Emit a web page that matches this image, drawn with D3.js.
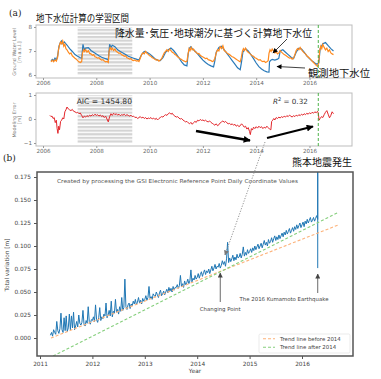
<!DOCTYPE html>
<html><head><meta charset="utf-8">
<script src="https://cdn.jsdelivr.net/npm/d3@7"></script>
<style>body{margin:0;background:#fff}svg{display:block}</style>
</head><body><svg id="c" width="381" height="379"></svg>
<script>
// ---------------- DATA ----------------
const yearTicksA = [2006, 2008, 2010, 2012, 2014, 2016];
const levelTicks = [6, 7, 8];
const errTicks = [-1, 0, 1];
const trainPeriod = [2007.3, 2009.35];
const quakeYear = 2016.33;
const aic = "AIC = 1454.80";
const r2 = "0.32";

const observed = [
[2006.30,6.58],[2006.35,6.65],[2006.40,6.60],[2006.45,6.70],[2006.50,6.62],[2006.55,6.80],[2006.60,7.20],[2006.65,7.35],[2006.70,7.42],[2006.75,7.30],[2006.80,7.38],[2006.90,7.25],
[2007.00,7.10],[2007.10,6.98],[2007.20,6.85],[2007.30,6.78],[2007.40,6.72],[2007.45,6.70],[2007.50,7.28],[2007.55,7.05],[2007.60,7.12],[2007.70,7.14],[2007.80,7.02],[2007.90,6.95],
[2008.00,6.88],[2008.10,6.80],[2008.20,6.74],[2008.30,6.70],[2008.40,6.66],[2008.45,6.62],[2008.50,7.28],[2008.55,7.15],[2008.60,7.24],[2008.70,7.18],[2008.80,7.05],[2008.90,6.98],
[2009.00,6.92],[2009.10,6.85],[2009.20,6.78],[2009.30,6.74],[2009.40,6.70],[2009.50,6.66],[2009.60,6.62],[2009.70,6.85],[2009.80,6.98],[2009.90,6.95],
[2010.00,6.88],[2010.10,6.78],[2010.20,6.68],[2010.30,6.62],[2010.40,6.60],[2010.50,6.72],[2010.60,6.95],[2010.70,7.05],[2010.80,7.12],[2010.90,7.02],
[2011.00,6.88],[2011.10,6.72],[2011.20,6.55],[2011.30,6.42],[2011.40,6.38],[2011.45,6.90],[2011.50,7.12],[2011.55,7.18],[2011.60,7.10],[2011.70,7.00],[2011.80,6.88],[2011.90,6.75],
[2012.00,6.62],[2012.10,6.52],[2012.20,6.44],[2012.30,6.38],[2012.40,6.34],[2012.45,6.60],[2012.50,6.95],[2012.60,7.15],[2012.70,7.20],[2012.80,7.05],[2012.90,6.90],
[2013.00,6.75],[2013.10,6.60],[2013.20,6.45],[2013.30,6.30],[2013.40,6.22],[2013.45,6.55],[2013.50,6.95],[2013.60,7.10],[2013.70,7.00],[2013.80,6.85],[2013.90,6.68],
[2014.00,6.50],[2014.10,6.35],[2014.20,6.25],[2014.30,6.18],[2014.40,6.13],[2014.48,6.12],[2014.50,6.55],[2014.55,6.62],[2014.60,6.65],[2014.70,6.62],[2014.80,6.66],[2014.85,6.70],[2014.90,7.00],
[2015.00,7.05],[2015.10,6.95],[2015.20,6.85],[2015.30,6.75],[2015.40,6.68],[2015.50,6.95],[2015.60,7.12],[2015.70,7.08],[2015.80,6.95],[2015.90,6.80],
[2016.00,6.68],[2016.10,6.58],[2016.20,6.50],[2016.28,6.45],[2016.35,6.50],[2016.40,7.10],[2016.50,7.30],[2016.60,7.35],[2016.70,7.22],[2016.80,7.10],[2016.90,7.00]
];

const computed = [
[2006.30,6.55],[2006.35,6.62],[2006.40,6.55],[2006.45,6.63],[2006.50,6.58],[2006.55,6.75],[2006.58,7.05],[2006.62,7.25],[2006.66,7.38],[2006.70,7.30],[2006.74,7.42],[2006.78,7.20],[2006.82,7.28],[2006.86,7.10],[2006.90,7.05],[2006.95,6.95],
[2007.00,6.88],[2007.05,6.92],[2007.10,6.80],[2007.15,6.75],[2007.20,6.70],[2007.25,6.66],[2007.30,6.60],[2007.35,6.55],[2007.40,6.52],[2007.45,6.56],[2007.48,6.90],[2007.52,7.05],[2007.56,6.98],[2007.60,7.06],[2007.65,6.95],[2007.70,7.02],[2007.75,6.90],[2007.80,6.88],[2007.85,6.82],[2007.90,6.85],[2007.95,6.76],
[2008.00,6.74],[2008.05,6.70],[2008.10,6.72],[2008.15,6.65],[2008.20,6.62],[2008.25,6.64],[2008.30,6.58],[2008.35,6.55],[2008.40,6.57],[2008.45,6.52],[2008.48,7.00],[2008.52,7.15],[2008.56,7.05],[2008.60,7.12],[2008.65,7.02],[2008.70,7.08],[2008.75,6.98],[2008.80,6.95],[2008.85,6.90],[2008.90,6.92],[2008.95,6.84],
[2009.00,6.82],[2009.05,6.78],[2009.10,6.80],[2009.15,6.72],[2009.20,6.70],[2009.25,6.66],[2009.30,6.68],[2009.35,6.62],[2009.40,6.60],[2009.45,6.63],[2009.50,6.58],[2009.55,6.60],[2009.60,6.56],[2009.65,6.70],[2009.70,6.85],[2009.75,6.92],[2009.80,6.88],[2009.85,6.98],[2009.90,6.90],[2009.95,6.86],
[2010.00,6.80],[2010.05,6.78],[2010.10,6.72],[2010.15,6.70],[2010.20,6.66],[2010.25,6.62],[2010.30,6.64],[2010.35,6.58],[2010.40,6.62],[2010.45,6.68],[2010.50,6.80],[2010.55,6.92],[2010.60,6.98],[2010.65,7.05],[2010.70,6.98],[2010.75,7.08],[2010.80,7.02],[2010.85,6.95],[2010.90,6.92],[2010.95,6.85],
[2011.00,6.82],[2011.05,6.76],[2011.10,6.72],[2011.15,6.68],[2011.20,6.65],[2011.25,6.60],[2011.30,6.58],[2011.35,6.55],[2011.40,6.57],[2011.44,6.85],[2011.48,7.10],[2011.52,7.02],[2011.56,7.15],[2011.60,7.05],[2011.65,7.08],[2011.70,6.98],[2011.75,6.95],[2011.80,6.88],[2011.85,6.90],[2011.90,6.82],[2011.95,6.78],
[2012.00,6.75],[2012.05,6.72],[2012.10,6.68],[2012.15,6.70],[2012.20,6.64],[2012.25,6.62],[2012.30,6.60],[2012.35,6.56],[2012.40,6.58],[2012.45,6.70],[2012.50,6.92],[2012.55,7.05],[2012.60,7.00],[2012.65,7.18],[2012.70,7.10],[2012.75,7.22],[2012.80,7.02],[2012.85,6.98],[2012.90,6.92],[2012.95,6.88],
[2013.00,6.85],[2013.05,6.80],[2013.10,6.76],[2013.15,6.74],[2013.20,6.70],[2013.25,6.66],[2013.30,6.62],[2013.35,6.58],[2013.40,6.55],[2013.44,6.72],[2013.48,6.98],[2013.52,7.10],[2013.56,7.02],[2013.60,7.12],[2013.65,7.00],[2013.70,6.95],[2013.75,6.90],[2013.80,6.86],[2013.85,6.80],[2013.90,6.78],[2013.95,6.72],
[2014.00,6.70],[2014.05,6.66],[2014.10,6.62],[2014.15,6.64],[2014.20,6.58],[2014.25,6.56],[2014.30,6.58],[2014.35,6.52],[2014.40,6.55],[2014.45,6.60],[2014.48,6.90],[2014.52,7.05],[2014.56,6.98],[2014.60,7.08],[2014.65,7.00],[2014.70,6.92],[2014.75,6.96],[2014.80,6.88],[2014.85,6.92],[2014.90,7.02],[2014.95,6.95],
[2015.00,6.90],[2015.05,6.85],[2015.10,6.82],[2015.15,6.78],[2015.20,6.74],[2015.25,6.70],[2015.30,6.72],[2015.35,6.66],[2015.40,6.70],[2015.45,6.85],[2015.50,7.02],[2015.55,7.10],[2015.60,7.05],[2015.65,7.15],[2015.70,7.06],[2015.75,6.98],[2015.80,6.92],[2015.85,6.88],[2015.90,6.80],[2015.95,6.75],
[2016.00,6.70],[2016.05,6.64],[2016.10,6.58],[2016.15,6.52],[2016.20,6.46],[2016.25,6.40],[2016.30,6.36],[2016.34,6.48],[2016.38,7.00],[2016.42,7.20],[2016.46,7.10],[2016.50,7.28],[2016.55,7.15],[2016.60,7.05],[2016.65,7.12],[2016.70,6.98],[2016.75,7.05],[2016.80,6.92],[2016.85,6.88],[2016.90,6.85]
];

const modelError = [
[2006.26,0.15],[2006.30,0.10],[2006.34,0.12],[2006.38,0.02],[2006.42,0.06],[2006.46,-0.15],[2006.50,-0.05],[2006.53,-0.40],[2006.56,-0.60],[2006.59,-0.30],[2006.62,-0.45],[2006.66,-0.10],[2006.70,-0.05],[2006.74,0.05],[2006.78,0.00],[2006.82,0.30],[2006.86,0.38],[2006.90,0.50],[2006.95,0.42],
[2007.00,0.38],[2007.05,0.35],[2007.10,0.40],[2007.15,0.32],[2007.20,0.30],[2007.25,0.26],[2007.30,0.28],[2007.35,0.22],[2007.40,0.25],[2007.45,0.15],[2007.50,0.05],[2007.55,0.12],[2007.60,0.08],[2007.65,0.14],[2007.70,0.10],[2007.75,0.16],[2007.80,0.12],[2007.85,0.18],[2007.90,0.14],[2007.95,0.20],
[2008.00,0.15],[2008.05,0.18],[2008.10,0.12],[2008.15,0.17],[2008.20,0.10],[2008.25,0.14],[2008.30,0.06],[2008.35,0.12],[2008.40,0.00],[2008.45,-0.12],[2008.50,0.10],[2008.55,0.22],[2008.60,0.15],[2008.65,0.24],[2008.70,0.18],[2008.75,0.22],[2008.80,0.16],[2008.85,0.20],[2008.90,0.14],[2008.95,0.18],
[2009.00,0.16],[2009.05,0.20],[2009.10,0.14],[2009.15,0.18],[2009.20,0.15],[2009.25,0.12],[2009.30,0.16],[2009.35,0.10],[2009.40,0.12],[2009.45,0.06],[2009.50,0.08],[2009.55,0.02],[2009.60,0.06],[2009.65,0.10],[2009.70,0.04],[2009.75,0.08],[2009.80,0.02],[2009.85,0.06],[2009.90,0.00],[2009.95,0.04],
[2010.00,0.02],[2010.05,0.06],[2010.10,0.00],[2010.15,0.04],[2010.20,-0.02],[2010.25,0.03],[2010.30,-0.04],[2010.35,0.02],[2010.40,0.06],[2010.45,0.10],[2010.50,0.08],[2010.55,0.14],[2010.60,0.18],[2010.65,0.15],[2010.70,0.22],[2010.75,0.26],[2010.80,0.20],[2010.85,0.24],[2010.90,0.16],[2010.95,0.12],
[2011.00,0.08],[2011.05,0.10],[2011.10,0.04],[2011.15,0.00],[2011.20,0.02],[2011.25,-0.04],[2011.30,-0.08],[2011.35,-0.12],[2011.40,-0.10],[2011.45,-0.16],[2011.50,-0.20],[2011.55,-0.14],[2011.60,-0.22],[2011.65,-0.15],[2011.70,-0.10],[2011.75,-0.14],[2011.80,-0.05],[2011.85,-0.08],[2011.90,-0.02],[2011.95,-0.06],
[2012.00,-0.04],[2012.05,-0.08],[2012.10,-0.05],[2012.15,-0.10],[2012.20,-0.12],[2012.25,-0.08],[2012.30,-0.14],[2012.35,-0.18],[2012.40,-0.22],[2012.45,-0.26],[2012.50,-0.20],[2012.55,-0.28],[2012.60,-0.24],[2012.65,-0.16],[2012.70,-0.12],[2012.75,-0.08],[2012.80,-0.14],[2012.85,-0.10],[2012.90,-0.16],[2012.95,-0.20],
[2013.00,-0.18],[2013.05,-0.24],[2013.10,-0.20],[2013.15,-0.26],[2013.20,-0.22],[2013.25,-0.30],[2013.30,-0.25],[2013.35,-0.32],[2013.40,-0.28],[2013.45,-0.20],[2013.50,-0.26],[2013.55,-0.34],[2013.60,-0.30],[2013.65,-0.42],[2013.70,-0.36],[2013.75,-0.52],[2013.78,-0.65],[2013.82,-0.40],[2013.86,-0.46],[2013.90,-0.34],[2013.95,-0.40],
[2014.00,-0.32],[2014.05,-0.38],[2014.10,-0.30],[2014.15,-0.36],[2014.20,-0.32],[2014.25,-0.40],[2014.30,-0.34],[2014.35,-0.38],[2014.40,-0.30],[2014.45,-0.36],[2014.50,-0.42],[2014.55,-0.45],[2014.58,-0.10],[2014.62,-0.05],[2014.66,0.02],[2014.70,-0.04],[2014.75,0.06],[2014.80,0.02],[2014.85,0.08],[2014.90,0.04],[2014.95,0.10],
[2015.00,0.06],[2015.05,0.12],[2015.10,0.08],[2015.15,0.14],[2015.20,0.10],[2015.25,0.16],[2015.30,0.12],[2015.35,0.08],[2015.40,0.14],[2015.45,0.10],[2015.50,0.16],[2015.55,0.12],[2015.60,0.18],[2015.65,0.14],[2015.70,0.20],[2015.75,0.16],[2015.80,0.22],[2015.85,0.18],[2015.90,0.24],[2015.95,0.20],
[2016.00,0.26],[2016.05,0.22],[2016.10,0.28],[2016.15,0.24],[2016.20,0.30],[2016.25,0.26],[2016.30,0.32],[2016.33,0.25],[2016.36,-0.05],[2016.40,0.02],[2016.45,0.10],[2016.50,0.06],[2016.55,0.18],[2016.60,0.28],[2016.65,0.35],[2016.70,0.20],[2016.75,0.05],[2016.80,0.15],[2016.85,0.30],[2016.90,0.22]
];

// panel (b)
const yearTicksB = [2011, 2012, 2013, 2014, 2015, 2016];
const varTicks = [0.000, 0.025, 0.050, 0.075, 0.100, 0.125, 0.150, 0.175];
const gnssStart = 2011.20, gnssStep = 0.02;   // sample spacing in years
const gnssMm = [   // total variation, millimetres
3,6,2,9,6,4,18,8,5,10,
27,9,6,22,8,24,7,11,26,9,
24,11,28,9,13,18,12,25,16,14,
17,30,15,13,19,16,34,18,15,20,
19,23,18,36,20,17,22,33,19,23,
21,26,24,38,22,25,30,24,40,23,
29,27,42,28,31,26,34,29,44,30,
33,64,34,31,36,38,32,37,35,40,
37,42,36,39,44,38,41,37,43,40,
42,46,41,44,56,43,45,42,48,46,
45,50,47,44,49,52,46,48,51,47,
50,53,49,55,51,54,50,56,52,55,
55,58,54,57,68,56,59,55,62,58,
60,64,59,62,74,61,65,63,68,64,
66,70,65,69,72,67,71,74,69,73,
71,75,70,74,78,73,76,80,75,78,
77,81,76,79,84,80,83,78,86,104,
82,87,83,86,90,84,88,85,91,87,
88,92,87,91,99,89,93,90,96,92,
94,97,93,98,95,100,96,99,102,97,
100,103,98,102,106,101,104,100,107,103,
105,109,104,108,111,106,110,107,112,108,
111,114,110,115,112,117,113,116,119,114,
117,120,116,121,118,123,119,122,125,120,
123,126,121,127,124,129,125,128,131,126,
128,131,127,130,133,129
];
const gnssQuake = [[2016.30, 0.190], [2016.30, 0.076]];
const trendBefore = [[2011.21, 0.000], [2016.69, 0.1228]];
const trendAfter = [[2011.25, -0.0196], [2016.69, 0.1365]];
const changeYear = 2014.44, quakeYearB = 2016.30;

// ---------------- DRAW ----------------
const svg = d3.select('#c');
const JP = '"Noto Sans CJK JP", sans-serif';
const SANS = '"DejaVu Sans", sans-serif';
const defs = svg.append('defs');
const pat = defs.append('pattern').attr('id','hatch').attr('patternUnits','userSpaceOnUse').attr('width',6).attr('height',3.6);
pat.append('rect').attr('width',6).attr('height',3.6).attr('fill','#fff');
pat.append('rect').attr('width',6).attr('height',2.2).attr('fill','#d4d4d4');
function marker(id, color, w, h){
  defs.append('marker').attr('id',id).attr('viewBox','0 0 10 10').attr('refX',9).attr('refY',5)
    .attr('markerWidth',w).attr('markerHeight',h).attr('orient','auto-start-reverse').attr('markerUnits','userSpaceOnUse')
    .append('path').attr('d','M0,0L10,5L0,10Z').attr('fill',color);
}
marker('ahBlack','#000',6,5); marker('ahBig','#000',9,7); marker('ahGray','#777',5,5); marker('ahDark','#444',5,5);
defs.append('clipPath').attr('id','clipB').append('rect').attr('x',37).attr('y',172).attr('width',316).attr('height',184);

const xA = d3.scaleLinear().domain([2006, 2016]).range([43, 309.5]);
const yL = d3.scaleLinear().domain([6, 8]).range([75, 27]);
const yE = d3.scaleLinear().domain([-1, 1]).range([143, 95]);

function frameA(y0, y1){
  svg.append('rect').attr('x',36).attr('y',y0).attr('width',316).attr('height',y1-y0)
    .attr('fill','#fff').attr('stroke','#bdbdbd').attr('stroke-width',1);
}
function axesA(yScale, ticks, yBottom, fmt){
  const gx = svg.append('g').attr('transform',`translate(0,${yBottom})`)
    .call(d3.axisBottom(xA).tickValues(yearTicksA).tickSize(2).tickPadding(1.5).tickFormat(d3.format('d')));
  const gy = svg.append('g').attr('transform','translate(36,0)')
    .call(d3.axisLeft(yScale).tickValues(ticks).tickSize(2).tickPadding(2).tickFormat(fmt));
  [gx, gy].forEach(g=>{
    g.select('.domain').remove();
    g.selectAll('line').attr('stroke','#999');
    g.selectAll('text').attr('font-family',SANS).attr('font-size',5.6).attr('fill','#666');
  });
}

// (a) top panel
frameA(25, 78);
svg.append('rect').attr('x',xA(trainPeriod[0])).attr('y',yL(8)).attr('width',xA(trainPeriod[1])-xA(trainPeriod[0])).attr('height',yL(6)-yL(8)).attr('fill','url(#hatch)');
axesA(yL, levelTicks, 78, d3.format('d'));
const lineL = d3.line().x(d=>xA(d[0])).y(d=>yL(d[1]));
svg.append('path').datum(observed).attr('d',lineL).attr('fill','none').attr('stroke','#2a7ab9').attr('stroke-width',1.2);
svg.append('path').datum(computed).attr('d',lineL).attr('fill','none').attr('stroke','#ff8a1e').attr('stroke-width',1.2);
svg.append('line').attr('x1',xA(quakeYear)).attr('x2',xA(quakeYear)).attr('y1',25).attr('y2',78).attr('stroke','#3aaa35').attr('stroke-width',0.9).attr('stroke-dasharray','3,2');

// (a) bottom panel
frameA(93, 146);
svg.append('rect').attr('x',xA(trainPeriod[0])).attr('y',yE(1)).attr('width',xA(trainPeriod[1])-xA(trainPeriod[0])).attr('height',yE(-1)-yE(1)).attr('fill','url(#hatch)');
axesA(yE, errTicks, 146, d=>d<0?'\u2212'+Math.abs(d):d);
svg.append('path').datum(modelError).attr('d',d3.line().x(d=>xA(d[0])).y(d=>yE(d[1]))).attr('fill','none').attr('stroke','#e3262b').attr('stroke-width',1);
svg.append('line').attr('x1',xA(quakeYear)).attr('x2',xA(quakeYear)).attr('y1',93).attr('y2',146).attr('stroke','#3aaa35').attr('stroke-width',0.9).attr('stroke-dasharray','3,2');
svg.append('text').attr('x',xA(trainPeriod[0])-1).attr('y',104).attr('font-family',SANS).attr('font-size',7.6).attr('fill','#333').text(aic);
const r2t = svg.append('text').attr('x',273).attr('y',104).attr('font-family',SANS).attr('font-size',7.2).attr('fill','#333');
r2t.append('tspan').attr('font-style','italic').text('R');
r2t.append('tspan').attr('dy',-3).attr('font-size',5).text('2');
r2t.append('tspan').attr('dy',3).text(' = ' + r2);

// y labels (a)
function ylab(x, cy, lines, size, color){
  const t = svg.append('text').attr('transform',`translate(${x},${cy}) rotate(-90)`).attr('text-anchor','middle')
    .attr('font-family',SANS).attr('font-size',size).attr('fill',color);
  lines.forEach((l,i)=>t.append('tspan').attr('x',0).attr('dy',i?size*1.1:0).text(l));
}
ylab(16, 52, ['Ground Water Level','[m a.s.l.]'], 4.8, '#777');
ylab(16, 120, ['Modeling Error','[m]'], 4.8, '#777');

// panel labels
svg.append('text').attr('x',9).attr('y',16).attr('font-family','"DejaVu Serif", serif').attr('font-size',9).attr('fill','#222').text('(a)');
svg.append('text').attr('x',3).attr('y',161).attr('font-family','"DejaVu Serif", serif').attr('font-size',9).attr('fill','#222').text('(b)');

// JP annotation texts
function jp(x, y, s, w){
  svg.append('text').attr('x',x).attr('y',y).attr('font-family',JP).attr('font-size',10).attr('fill','#111')
    .attr('textLength',w).attr('lengthAdjust','spacingAndGlyphs').text(s);
}
jp(36, 22, '地下水位計算の学習区間', 93);
jp(115, 37, '降水量･気圧･地球潮汐に基づく計算地下水位', 197);
jp(308, 77, '観測地下水位', 62);
jp(292, 166, '熊本地震発生', 60);
jp(47, 197, '衛星測位システムによる地殻変動のデータ', 185);
jp(245, 206, '傾向の変化の', 62);
jp(245, 220, '時期が対応', 51);

// thin arrows in top panel
svg.append('line').attr('x1',287).attr('y1',39).attr('x2',273).attr('y2',53).attr('stroke','#111').attr('stroke-width',0.8).attr('marker-end','url(#ahBlack)');
svg.append('line').attr('x1',305).attr('y1',68).attr('x2',277).attr('y2',66.5).attr('stroke','#111').attr('stroke-width',0.8).attr('marker-end','url(#ahBlack)');
// thick trend arrows in error panel
svg.append('line').attr('x1',196).attr('y1',131).attr('x2',250).attr('y2',140.5).attr('stroke','#000').attr('stroke-width',2.3).attr('marker-end','url(#ahBig)');
svg.append('line').attr('x1',267).attr('y1',138).attr('x2',313).attr('y2',126.5).attr('stroke','#000').attr('stroke-width',2.3).attr('marker-end','url(#ahBig)');

// ---------- panel (b) ----------
const xB = d3.scaleLinear().domain([2011, 2016]).range([40, 302]);
const yB = d3.scaleLinear().domain([0, 0.175]).range([338, 177]);
svg.append('rect').attr('x',37).attr('y',172).attr('width',316).attr('height',184).attr('fill','#fff');
const gnss = gnssMm.map((v,i)=>[gnssStart + i*gnssStep, v/1000]).concat(gnssQuake);
const lineB = d3.line().x(d=>xB(d[0])).y(d=>yB(d[1]));
const plotB = svg.append('g').attr('clip-path','url(#clipB)');
plotB.append('path').datum(gnss).attr('d',lineB).attr('fill','none').attr('stroke','#1f77b4').attr('stroke-width',1.0);
plotB.append('path').datum(trendBefore).attr('d',lineB).attr('fill','none').attr('stroke','#fdb27a').attr('stroke-width',1.1).attr('stroke-dasharray','3,2');
plotB.append('path').datum(trendAfter).attr('d',lineB).attr('fill','none').attr('stroke','#86cf7d').attr('stroke-width',1.1).attr('stroke-dasharray','3,2');
svg.append('rect').attr('x',37).attr('y',172).attr('width',316).attr('height',184).attr('fill','none').attr('stroke','#555').attr('stroke-width',1.5);

const gxb = svg.append('g').attr('transform','translate(0,356)').call(d3.axisBottom(xB).tickValues(yearTicksB).tickSize(3).tickFormat(d3.format('d')));
const gyb = svg.append('g').attr('transform','translate(37,0)').call(d3.axisLeft(yB).tickValues(varTicks).tickSize(3).tickFormat(d3.format('.3f')));
[gxb, gyb].forEach(g=>{
  g.select('.domain').remove();
  g.selectAll('line').attr('stroke','#555');
  g.selectAll('text').attr('font-family',SANS).attr('font-size',5.8).attr('fill','#444');
});
svg.append('text').attr('x',195).attr('y',373).attr('text-anchor','middle').attr('font-family',SANS).attr('font-size',5.8).attr('fill','#444').text('Year');
svg.append('text').attr('transform','translate(9,265) rotate(-90)').attr('text-anchor','middle').attr('font-family',SANS).attr('font-size',5.8).attr('fill','#444').text('Total variation [m]');
svg.append('text').attr('x',57).attr('y',183).attr('font-family',SANS).attr('font-size',5.4).attr('fill','#555')
  .attr('textLength',241).attr('lengthAdjust','spacingAndGlyphs').text('Created by processing the GSI Electronic Reference Point Daily Coordinate Values');

// annotations (b)
svg.append('line').attr('x1',xB(changeYear)).attr('x2',xB(changeYear)).attr('y1',302).attr('y2',273).attr('stroke','#444').attr('stroke-width',0.8).attr('marker-end','url(#ahDark)');
svg.append('text').attr('x',xB(changeYear)).attr('y',311).attr('text-anchor','middle').attr('font-family',SANS).attr('font-size',5.4).attr('fill','#444').text('Changing Point');
svg.append('line').attr('x1',xB(quakeYearB)).attr('x2',xB(quakeYearB)).attr('y1',293).attr('y2',274).attr('stroke','#444').attr('stroke-width',0.8).attr('marker-end','url(#ahDark)');
svg.append('text').attr('x',284).attr('y',301).attr('text-anchor','middle').attr('font-family',SANS).attr('font-size',5.4).attr('fill','#444').text('The 2016 Kumamoto Earthquake');

// dotted link line from (a) to (b)
svg.append('line').attr('x1',265).attr('y1',142).attr('x2',225).attr('y2',255).attr('stroke','#888').attr('stroke-width',0.9).attr('stroke-dasharray','1.2,1.5').attr('marker-end','url(#ahGray)');

// legend
const lg = svg.append('g');
lg.append('rect').attr('x',259).attr('y',334).attr('width',91).attr('height',19).attr('fill','#fff').attr('stroke','#ddd').attr('stroke-width',0.6).attr('rx',1.5);
[['Trend line before 2014','#fdb27a',340.5],['Trend line after 2014','#86cf7d',349]].forEach(([t,c,y])=>{
  lg.append('line').attr('x1',263).attr('x2',275).attr('y1',y-1.8).attr('y2',y-1.8).attr('stroke',c).attr('stroke-width',1.1).attr('stroke-dasharray','3,2');
  lg.append('text').attr('x',280).attr('y',y).attr('font-family',SANS).attr('font-size',5.4).attr('fill','#444').text(t);
});
</script></body></html>
